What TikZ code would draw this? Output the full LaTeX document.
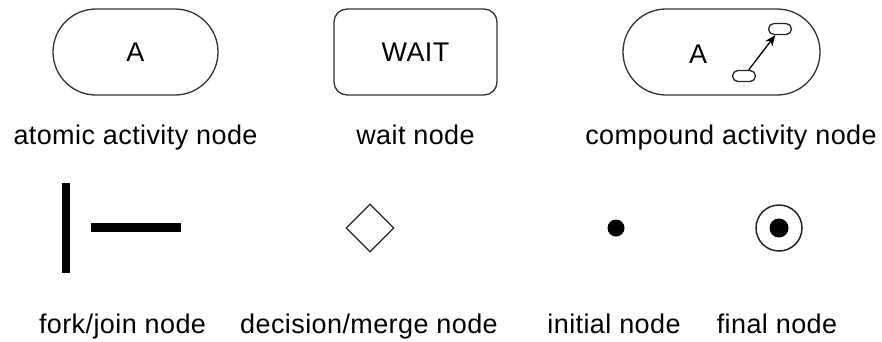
\documentclass[tikz,border=0pt]{standalone}
\usepackage{fontspec}
\setmainfont{Liberation Sans}[LetterSpace=1.5]
\usetikzlibrary{shapes.misc,shapes.geometric,arrows.meta}
\tikzset{
  txt/.style={font=\fontsize{27}{32}\selectfont},
  lbl/.style={txt,anchor=base,inner sep=0pt},
  pill/.style={txt,rounded rectangle,draw=black!80,line width=1.3pt,minimum height=86pt,inner sep=0pt},
  waitbox/.style={txt,rectangle,rounded corners=13pt,draw=black!80,line width=1.3pt,minimum height=86pt,minimum width=163pt,inner sep=0pt},
  minipill/.style={rounded rectangle,draw=black!85,line width=1.3pt,minimum height=11pt,minimum width=23pt,inner sep=0pt},
  bar/.style={rectangle,fill=black,inner sep=0pt},
  dec/.style={diamond,draw=black!85,line width=1.3pt,minimum width=48pt,minimum height=48pt,inner sep=0pt},
  dot/.style={circle,fill=black,inner sep=0pt},
  ring/.style={circle,draw=black!85,line width=1.5pt,inner sep=0pt,minimum size=46pt}
}
\begin{document}
\begin{tikzpicture}[x=1pt,y=-1pt]
\useasboundingbox (0,0) rectangle (882,341);
% top row
\node[pill,minimum width=165pt] (atomic) at (135.5,52) {A};
\node[waitbox] (wait) at (415.5,52) {WAIT};
\node[pill,minimum width=197pt] (compound) at (721.5,52) {};
\node[txt,inner sep=0pt] (ca) at (698,54) {A};
\node[minipill] (s1) at (744,76) {};
\node[minipill] (s2) at (780,29) {};
\draw[line width=1.3pt,-{Stealth[length=11pt,width=9pt]}] (s1) -- (s2);
\node[lbl] (latomic) at (135.5,144) {atomic activity node};
\node[lbl] (lwait) at (415.5,144) {wait node};
\node[lbl] (lcompound) at (731,144) {compound activity node};
% bottom row
\node[bar,minimum width=8.5pt,minimum height=90pt] (fork) at (66,228) {};
\node[bar,minimum width=90pt,minimum height=9pt] (join) at (136,227.5) {};
\node[dec] (decision) at (370,228) {};
\node[dot,minimum size=17pt] (initial) at (616,228) {};
\node[ring] (final) at (779,228) {};
\node[dot,minimum size=19pt] (finaldot) at (779,228) {};
\node[lbl] (lfork) at (122.5,333) {fork/join node};
\node[lbl] (ldecision) at (369,333) {decision/merge node};
\node[lbl] (linitial) at (614,333) {initial node};
\node[lbl] (lfinal) at (777,333) {final node};
\end{tikzpicture}
\end{document}
